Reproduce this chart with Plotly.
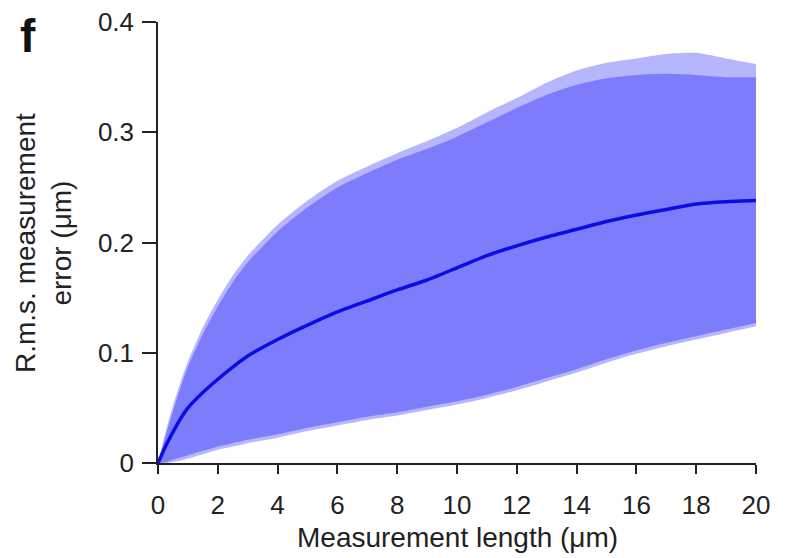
import plotly.graph_objects as go

# Measurement length (µm)
length_um = [0, 0.25, 0.5, 0.75, 1, 1.5, 2, 2.5, 3, 4, 5, 6, 7, 8, 9, 10,
             11, 12, 13, 14, 15, 16, 17, 18, 19, 20]
# Mean r.m.s. measurement error (µm)
rms_mean = [0, 0.015, 0.028, 0.040, 0.050, 0.064, 0.076, 0.087, 0.097, 0.112,
            0.125, 0.137, 0.147, 0.157, 0.166, 0.177, 0.188, 0.197, 0.205,
            0.212, 0.219, 0.225, 0.230, 0.235, 0.237, 0.238]
# Upper edge of the (solid) spread band
rms_upper = [0, 0.024, 0.047, 0.068, 0.087, 0.117, 0.142, 0.164, 0.182, 0.210,
             0.232, 0.250, 0.263, 0.275, 0.285, 0.296, 0.309, 0.322, 0.334,
             0.343, 0.349, 0.352, 0.353, 0.352, 0.350, 0.350]
# Lower edge of the (solid) spread band
rms_lower = [0, 0.001, 0.003, 0.005, 0.007, 0.011, 0.015, 0.018, 0.021, 0.026,
             0.032, 0.037, 0.042, 0.046, 0.051, 0.056, 0.062, 0.069, 0.077,
             0.085, 0.094, 0.102, 0.109, 0.115, 0.121, 0.127]
# Tips of the noisy spikes at the band edges
spike_upper = [0, 0.028, 0.052, 0.073, 0.092, 0.123, 0.148, 0.170, 0.188, 0.216,
               0.238, 0.256, 0.269, 0.281, 0.292, 0.304, 0.318, 0.331, 0.345,
               0.356, 0.363, 0.367, 0.371, 0.372, 0.367, 0.362]
spike_lower = [0, 0, 0.001, 0.002, 0.004, 0.008, 0.012, 0.015, 0.018, 0.023,
               0.029, 0.034, 0.039, 0.043, 0.048, 0.053, 0.059, 0.066, 0.074,
               0.082, 0.091, 0.099, 0.106, 0.112, 0.118, 0.124]

x_ticks = [0, 2, 4, 6, 8, 10, 12, 14, 16, 18, 20]
y_ticks = [0, 0.1, 0.2, 0.3, 0.4]
y_tick_labels = ["0", "0.1", "0.2", "0.3", "0.4"]

FONT = "Liberation Sans, Arial, Helvetica, sans-serif"
BAND = "rgb(125,125,252)"
FRINGE = "rgb(182,182,253)"
LINE = "rgb(12,12,228)"
SPL = dict(shape="spline", smoothing=0.6)

fig = go.Figure()
fig.add_trace(go.Scatter(x=length_um, y=spike_lower, mode="lines",
                         line=dict(width=0, color=FRINGE, **SPL),
                         showlegend=False, hoverinfo="skip"))
fig.add_trace(go.Scatter(x=length_um, y=spike_upper, mode="lines", fill="tonexty",
                         fillcolor=FRINGE, line=dict(width=0, color=FRINGE, **SPL),
                         showlegend=False, hoverinfo="skip"))
fig.add_trace(go.Scatter(x=length_um, y=rms_lower, mode="lines",
                         line=dict(width=0, color=BAND, **SPL),
                         showlegend=False, hoverinfo="skip"))
fig.add_trace(go.Scatter(x=length_um, y=rms_upper, mode="lines", fill="tonexty",
                         fillcolor=BAND, line=dict(width=0, color=BAND, **SPL),
                         showlegend=False, hoverinfo="skip"))
fig.add_trace(go.Scatter(x=length_um, y=rms_mean, mode="lines",
                         line=dict(width=3.5, color=LINE, **SPL),
                         showlegend=False))

fig.update_layout(
    width=788, height=558,
    margin=dict(l=150, r=40, t=14, b=103),
    paper_bgcolor="white", plot_bgcolor="white",
    font=dict(family=FONT, size=26, color="#222"),
    xaxis=dict(range=[0, 20], tickvals=x_ticks, ticks="outside", ticklen=9,
               tickwidth=1.5, tickcolor="#222", showline=True, linecolor="#222",
               linewidth=1.5, showgrid=False, zeroline=False, automargin=False,
               ticklabelstandoff=9, ticklabeloverflow="allow",
               tickfont=dict(size=26)),
    yaxis=dict(range=[0, 0.4], tickvals=y_ticks, ticktext=y_tick_labels,
               ticks="outside", ticklen=14, tickwidth=1.5, tickcolor="#222",
               showline=True, linecolor="#222", linewidth=1.5, showgrid=False,
               zeroline=False, automargin=False, ticklabelstandoff=3,
               ticklabeloverflow="allow", tickfont=dict(size=26)),
    annotations=[
        dict(text="Measurement length (μm)", xref="paper", yref="paper",
             x=0.5, y=-(537 - 463) / 441, xanchor="center", yanchor="middle",
             showarrow=False, font=dict(size=28)),
        dict(text="R.m.s. measurement<br>error (μm)", xref="paper", yref="paper",
             x=(44 - 158) / 598, y=(463 - 243) / 441, xanchor="center",
             yanchor="middle", textangle=-90, showarrow=False,
             font=dict(size=28)),
        dict(text="<b>f</b>", xref="paper", yref="paper",
             x=(18 - 158) / 598, y=(463 - 36) / 441, xanchor="left",
             yanchor="middle", showarrow=False,
             font=dict(size=46, color="#111")),
    ],
)

fig.write_html("out.html")
